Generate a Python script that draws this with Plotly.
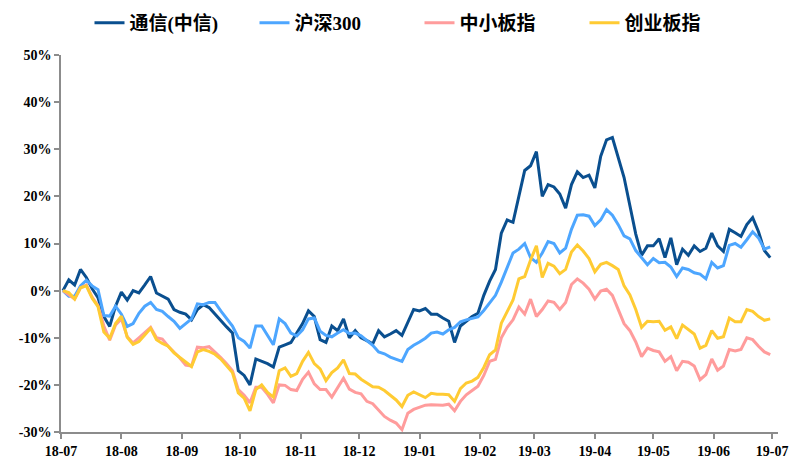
import pandas as pd
import plotly.graph_objects as go

# x categories: sampled dates (every 3 calendar days from 2018-07-02)
start_date = "2018-07-02"
n_points = 122
dates = pd.date_range(start_date, periods=n_points, freq="3D")

series_names = ["通信(中信)", "沪深300", "中小板指", "创业板指"]
series_colors = ["#0A4F8F", "#4DA6FF", "#FF9C9C", "#FFCB33"]

tongxin = [0, 2.3, 1.2, 4.5, 2.8, 0.4, -1.5, -5.5, -7.6, -3.3,
           -0.3, -2.0, 0.0, -0.5, 1.2, 3.0, -0.5, -1.2, -1.8, -4.0,
           -4.6, -5.0, -6.2, -4.0, -3.0, -3.6, -5.0, -6.5, -7.7, -9.0,
           -17.0, -18.0, -20.0, -14.5, -15.0, -15.5, -16.2, -12.0, -11.5, -11.0,
           -9.0, -7.0, -4.3, -5.5, -10.4, -11.0, -7.5, -8.5, -6.0, -10.0,
           -8.5, -10.0, -10.6, -11.3, -8.5, -9.8, -9.2, -8.5, -9.5, -6.8,
           -4.0, -4.3, -3.8, -5.0, -5.0, -5.8, -6.5, -11.0, -7.5, -6.5,
           -5.5, -4.8, -1.0, 2.0, 4.5, 12.2, 15.0, 14.5, 20.0, 25.5,
           26.5, 29.5, 20.0, 22.5, 22.0, 20.5, 17.5, 22.5, 25.2, 24.0,
           24.5, 21.8, 28.5, 32.0, 32.5, 28.0, 24.0, 18.0, 12.0, 7.5,
           9.5, 9.5, 11.0, 7.0, 11.2, 5.5, 8.8, 7.5, 9.5, 8.3,
           9.0, 12.2, 9.5, 8.3, 13.0, 12.3, 11.5, 14.0, 15.5, 12.5,
           8.5, 7.0]

hs300 = [0, -1.2, -1.2, 1.0, 2.2, 1.0, 0.2, -5.3, -5.4, -3.3,
         -5.0, -7.6, -7.0, -4.8, -3.3, -2.5, -4.0, -4.4, -5.5, -6.5,
         -8.0, -7.0, -6.0, -2.8, -3.0, -2.5, -2.5, -4.3, -5.8, -7.5,
         -10.0, -10.8, -12.2, -7.5, -7.5, -9.5, -11.5, -6.0, -7.0, -9.0,
         -9.6, -8.3, -6.0, -5.8, -8.6, -9.5, -9.8, -9.0, -8.3, -9.1,
         -9.0, -9.6, -10.6, -11.6, -13.0, -13.4, -14.1, -14.6, -15.0, -12.5,
         -11.6, -10.9, -10.1, -9.0, -8.8, -9.2, -8.3, -7.8, -6.6, -6.2,
         -5.9, -5.6, -4.2, -2.5, -1.0, 1.8, 5.0, 8.0, 8.8, 10.0,
         7.0, 6.0, 8.0, 10.4, 10.0, 8.0, 9.0, 13.0, 16.0, 16.1,
         15.8, 13.8, 15.0, 17.2, 16.0, 14.0, 11.6, 11.0, 8.5, 7.0,
         5.5, 6.8, 5.9, 6.0, 5.0, 3.0, 4.8, 4.5, 3.8, 3.5,
         2.5, 6.0, 4.8, 5.3, 9.6, 10.0, 9.2, 10.8, 12.5, 11.2,
         8.8, 9.3]

zxb = [0, -1.0, -1.8, 0.6, 1.2, -1.4, -3.2, -7.5, -10.5, -7.3,
       -6.0, -9.8, -11.1, -10.0, -9.0, -7.8, -10.0, -10.3, -11.8, -13.0,
       -14.3, -15.8, -16.0, -12.0, -12.1, -11.9, -13.0, -14.2, -15.5, -17.0,
       -21.0, -22.2, -23.8, -20.5, -20.5, -22.0, -23.8, -20.0, -20.1, -21.0,
       -21.2, -18.8, -17.3, -19.8, -21.0, -21.0, -22.6, -20.5, -18.6, -20.9,
       -21.6, -21.9, -23.5, -24.0, -25.3, -26.7, -27.5, -28.1, -29.5, -26.0,
       -25.2, -24.7, -24.3, -24.2, -24.2, -24.3, -24.1, -25.5, -23.5, -22.1,
       -21.2, -20.3, -18.0, -15.0, -14.6, -10.0, -7.8, -6.2, -3.5, -5.0,
       -1.8, -5.5, -4.0, -2.2, -2.5, -4.0, -2.5, 1.3, 2.5, 1.6,
       0.3, -1.8, -0.1, 0.3, -1.0, -4.0, -7.0, -8.5, -10.9, -14.0,
       -12.2, -12.7, -13.0, -15.0, -14.0, -17.0, -15.0, -15.2, -16.0, -18.9,
       -17.8, -14.5, -16.9, -16.0, -12.5, -12.8, -12.5, -10.0, -10.4, -11.8,
       -13.0, -13.6]

cyb = [0, -0.4, -1.8, 0.6, 1.0, -1.6, -3.4, -8.8, -10.1, -7.0,
       -5.4, -9.9, -11.4, -10.8, -9.4, -8.0, -10.4, -11.2, -11.8, -13.2,
       -14.2, -15.2, -16.1, -13.0, -12.5, -12.9, -13.5, -14.5, -16.0, -17.4,
       -21.7, -22.8, -25.5, -21.0, -20.0, -21.6, -22.6, -17.0, -16.4, -18.2,
       -17.6, -15.0, -13.1, -15.5, -16.6, -19.1, -17.4, -16.4, -14.7, -17.6,
       -17.7, -18.8, -19.6, -20.4, -20.5, -21.2, -22.2, -23.2, -24.6, -22.2,
       -21.5, -22.1, -22.7, -21.8, -22.0, -22.0, -22.1, -23.5, -20.8, -19.6,
       -19.2, -18.4, -16.3, -13.6, -12.6, -6.9, -4.6, -2.0, 2.5, 3.0,
       6.5, 9.5, 2.8, 5.8, 5.2, 3.6, 4.5, 8.2, 9.7, 8.4,
       6.8, 4.0, 5.6, 6.0, 5.3, 4.5, 1.0, -0.9, -4.0, -7.8,
       -6.5, -6.6, -6.5, -8.4, -7.7, -10.2, -7.3, -8.3, -9.2, -12.2,
       -11.6, -8.5, -10.1, -9.8, -5.8, -6.6, -6.6, -4.0, -4.4, -5.5,
       -6.3, -6.0]

y_ticks = [-30, -20, -10, 0, 10, 20, 30, 40, 50]
y_tick_labels = ["-30%", "-20%", "-10%", "0%", "10%", "20%", "30%", "40%", "50%"]

fig = go.Figure()
for name, vals, color in zip(series_names, [tongxin, hs300, zxb, cyb], series_colors):
    fig.add_trace(go.Scatter(
        x=dates, y=vals, mode="lines", name=name,
        line=dict(color=color, width=3),
    ))

tick_font = dict(family="Liberation Serif, Times New Roman, serif", size=14,
                 color="#000000", weight="bold")
axis_color = "#8c8c8c"

fig.update_layout(
    width=794, height=459,
    margin=dict(l=61, r=16, t=55, b=27, autoexpand=False),
    paper_bgcolor="white", plot_bgcolor="white",
    showlegend=True,
    legend=dict(
        orientation="h", x=0.5, xanchor="center",
        yref="container", y=1 - 23 / 459, yanchor="middle",
        font=dict(family="Liberation Serif, Noto Sans CJK SC", size=19,
                  color="#000000", weight="bold"),
        bgcolor="rgba(0,0,0,0)", itemwidth=30, tracegroupgap=0,
        entrywidth=120, entrywidthmode="pixels",
    ),
    xaxis=dict(
        type="date", automargin=False,
        range=["2018-07-01", "2019-07-04"],
        tick0="2018-07-01", dtick="M1", tickformat="%y-%m",
        showgrid=False, zeroline=False,
        showline=True, linecolor=axis_color, linewidth=1.5,
        ticks="outside", ticklen=5, tickcolor=axis_color, tickwidth=1.5,
        tickfont=tick_font,
    ),
    yaxis=dict(
        range=[-30, 50], automargin=False,
        tickvals=y_ticks, ticktext=y_tick_labels,
        showgrid=False, zeroline=False,
        showline=True, linecolor=axis_color, linewidth=1.5,
        ticks="outside", ticklen=5, tickcolor=axis_color, tickwidth=1.5,
        tickfont=tick_font,
    ),
)

fig.write_html("out.html")
